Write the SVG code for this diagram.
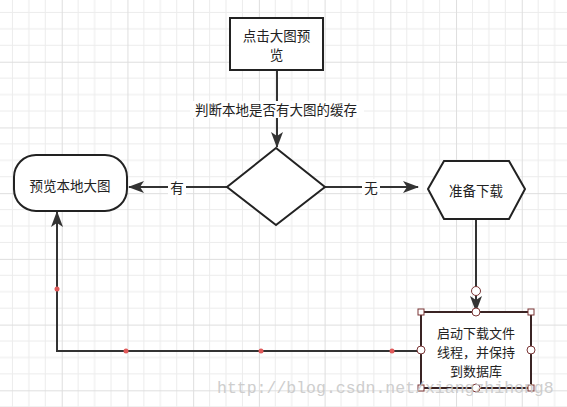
<svg xmlns="http://www.w3.org/2000/svg" width="567" height="407" viewBox="0 0 567 407">
<style>
.t{font-family:"Noto Sans CJK SC","Liberation Sans",sans-serif;font-size:13.5px;fill:#222;text-anchor:middle;dominant-baseline:central}
.s{font-size:13px}
.shape{fill:#fff;stroke:#222;stroke-width:2}
.edge{fill:none;stroke:#333;stroke-width:2}
.dot{fill:#e05a5a}
.h{fill:#fff;stroke:#7a3535;stroke-width:1}
.lbl{fill:#fff}
</style>
<defs>
<pattern id="grid" patternUnits="userSpaceOnUse" x="-4" y="-4" width="65.72" height="65.72">
<path d="M16.43 0V65.72M32.86 0V65.72M49.29 0V65.72M0 16.43H65.72M0 32.86H65.72M0 49.29H65.72" stroke="#ececec" stroke-width="1" fill="none"/>
<path d="M0.5 0V65.72M0 0.5H65.72" stroke="#dedede" stroke-width="1" fill="none"/>
</pattern>
<marker id="arr" viewBox="0 0 16 12" refX="15" refY="6" markerWidth="16" markerHeight="12" markerUnits="userSpaceOnUse" orient="auto">
<path d="M0 0L16 6L0 12L4 6Z" fill="#333"/>
</marker>
</defs>
<rect width="567" height="407" fill="#fff"/>
<rect width="567" height="407" fill="url(#grid)"/>
<g id="connectors">
<path class="edge" d="M277 70V147" marker-end="url(#arr)"/>
<rect class="lbl" x="190" y="101" width="174" height="17"/>
<text class="t" x="276" y="109">判断本地是否有大图的缓存</text>
<path class="edge" d="M227 187H129" marker-end="url(#arr)"/>
<rect class="lbl" x="168" y="179" width="18" height="16"/>
<text class="t" x="177" y="187">有</text>
<path class="edge" d="M325 187H418" marker-end="url(#arr)"/>
<rect class="lbl" x="362" y="179" width="18" height="16"/>
<text class="t" x="371" y="187">无</text>
<path class="edge" d="M476 219V311" marker-end="url(#arr)"/>
<path class="edge" d="M421 351H57V212" marker-end="url(#arr)"/>
<circle class="dot" cx="57" cy="289" r="2.5"/>
<circle class="dot" cx="126" cy="351" r="2.5"/>
<circle class="dot" cx="261" cy="351" r="2.5"/>
<circle class="dot" cx="392" cy="351" r="2.5"/>
</g>
<g id="start">
<rect class="shape" x="230" y="18" width="93" height="52"/>
<text class="t" x="276.5" y="35">点击大图预</text>
<text class="t" x="276.5" y="54">览</text>
</g>
<g id="decision">
<path class="shape" d="M276 148L325 187L276 225L227 187Z"/>
</g>
<g id="preview">
<rect class="shape" x="14" y="155" width="113" height="56" rx="22" ry="22"/>
<text class="t" x="70" y="185">预览本地大图</text>
</g>
<g id="prepare">
<path class="shape" d="M428 189L444 161H509L525 189L509 219H444Z"/>
<text class="t" x="476" y="190">准备下载</text>
</g>
<g id="download">
<rect x="421" y="312" width="110" height="76" fill="#fff" stroke="#3a2424" stroke-width="2"/>
<text class="t s" x="476" y="332">启动下载文件</text>
<text class="t s" x="476" y="351">线程，并保持</text>
<text class="t s" x="476" y="370">到数据库</text>
<rect class="h" x="418" y="309" width="6" height="6"/>
<rect class="h" x="528" y="309" width="6" height="6"/>
<rect class="h" x="418" y="385" width="6" height="6"/>
<rect class="h" x="528" y="385" width="6" height="6"/>
<circle class="h" cx="476" cy="312" r="4"/>
<circle class="h" cx="421" cy="350" r="4"/>
<circle class="h" cx="531" cy="350" r="4"/>
<circle class="h" cx="476" cy="388" r="4"/>
<circle class="h" cx="476" cy="291" r="4.5"/>
</g>
<text x="217" y="393" font-family="Liberation Mono,monospace" font-size="16.5" fill="#c9c9c9" opacity="0.9">http://blog.csdn.net/xiangzhihong8</text>
</svg>
